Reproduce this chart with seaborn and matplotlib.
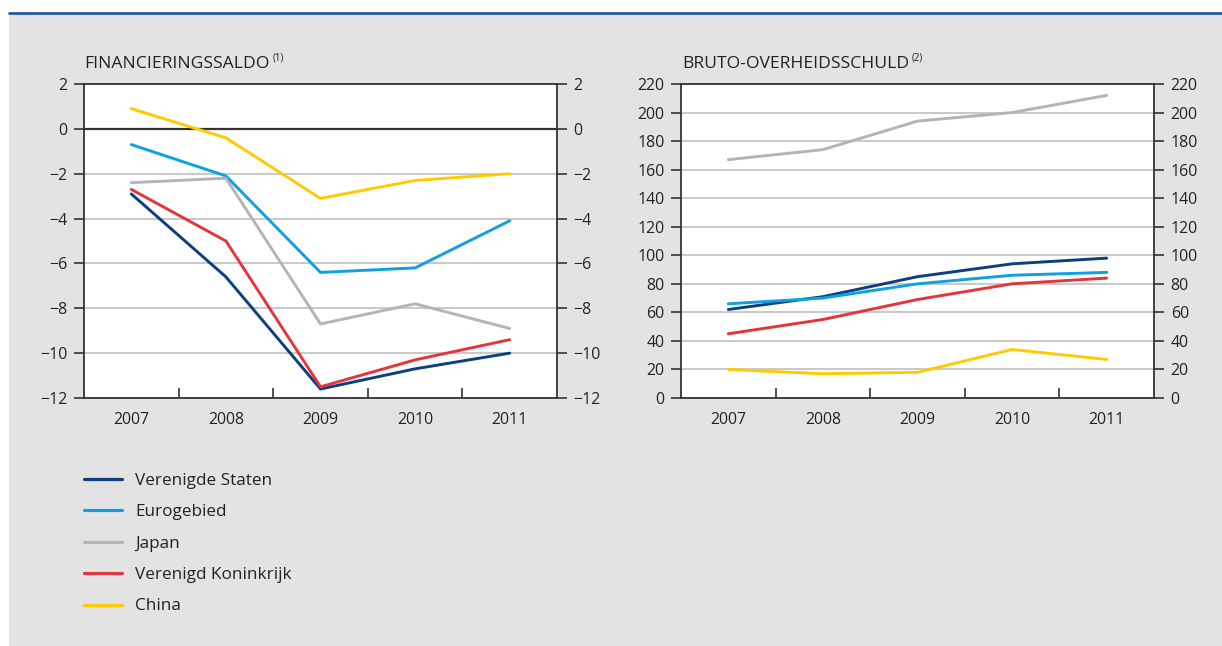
import matplotlib
matplotlib.use("Agg")
import matplotlib.pyplot as plt
import seaborn as sns
import pandas as pd
from matplotlib.patches import Rectangle
from matplotlib.lines import Line2D

# ---------------- data ----------------
years = ["2007", "2008", "2009", "2010", "2011"]
regions = ["Verenigde Staten", "Eurogebied", "Japan", "Verenigd Koninkrijk", "China"]

saldo_vs = [-2.9, -6.6, -11.6, -10.7, -10.0]
saldo_euro = [-0.7, -2.1, -6.4, -6.2, -4.1]
saldo_japan = [-2.4, -2.2, -8.7, -7.8, -8.9]
saldo_vk = [-2.7, -5.0, -11.5, -10.3, -9.4]
saldo_china = [0.9, -0.4, -3.1, -2.3, -2.0]

schuld_vs = [62, 71, 85, 94, 98]
schuld_euro = [66, 70, 80, 86, 88]
schuld_japan = [167, 174, 194, 200, 212]
schuld_vk = [45, 55, 69, 80, 84]
schuld_china = [20, 17, 18, 34, 27]

title_left = "FINANCIERINGSSALDO"
note_left = "(1)"
title_right = "BRUTO-OVERHEIDSSCHULD"
note_right = "(2)"

left_ticks = [-12, -10, -8, -6, -4, -2, 0, 2]
right_ticks = [0, 20, 40, 60, 80, 100, 120, 140, 160, 180, 200, 220]

colors = ["#0b3f7f", "#0ea0e0", "#b4b4b4", "#e4353b", "#ffcb00"]

# ---------------- frames ----------------
def long_frame(series_list):
    rows = []
    for reg, vals in zip(regions, series_list):
        for i, (yr, v) in enumerate(zip(years, vals)):
            rows.append({"pos": i, "jaar": yr, "regio": reg, "waarde": v})
    return pd.DataFrame(rows)

df_left = long_frame([saldo_vs, saldo_euro, saldo_japan, saldo_vk, saldo_china])
df_right = long_frame([schuld_vs, schuld_euro, schuld_japan, schuld_vk, schuld_china])

sns.set_style("white")
plt.rcParams["font.family"] = ["Open Sans", "DejaVu Sans"]
plt.rcParams["axes.unicode_minus"] = True

W, H = 1222, 646
fig = plt.figure(figsize=(W / 100, H / 100), dpi=100, facecolor="white")

# gray panel + blue top rule
fig.patches.append(Rectangle((9 / W, 0), 1 - 9 / W, (H - 13) / H,
                             transform=fig.transFigure, facecolor="#e3e3e3",
                             edgecolor="none", zorder=-10))
fig.add_artist(Line2D([9 / W, 1], [1 - 12.5 / H] * 2, transform=fig.transFigure,
                      color="#1f5c9e", lw=2.0))

TXT = "#222222"
SPINE = "#333333"
GRID = "#bbbbbb"
palette = dict(zip(regions, colors))


def style_axes(ax, ticks, ylim):
    ax.set_facecolor("white")
    ax.set_xlim(-0.5, len(years) - 0.5)
    ax.set_ylim(*ylim)
    ax.set_yticks(ticks)
    ax.set_yticklabels([str(t).replace("-", "\u2212") for t in ticks])
    ax.set_xticks(range(len(years)))
    ax.set_xticklabels(years)
    ax.set_xticks([i + 0.5 for i in range(len(years) - 1)], minor=True)
    ax.tick_params(axis="x", which="major", length=0, pad=10, labelsize=11.4, colors=TXT)
    ax.tick_params(axis="x", which="minor", direction="in", length=7, width=1.2,
                   color=SPINE, bottom=True)
    ax.tick_params(axis="y", which="major", direction="out", length=7, width=1.2,
                   color=SPINE, left=True, right=True, labelleft=True, labelright=True,
                   labelsize=11.4, labelcolor=TXT, pad=5)
    for s in ax.spines.values():
        s.set_visible(True)
        s.set_color(SPINE)
        s.set_linewidth(1.3)
    ax.yaxis.grid(True, color=GRID, lw=1.1)
    ax.xaxis.grid(False)
    ax.set_axisbelow(True)
    ax.set_xlabel("")
    ax.set_ylabel("")


axL = fig.add_axes([84 / W, 1 - 398 / H, 473 / W, 314 / H])
axR = fig.add_axes([681 / W, 1 - 398 / H, 473 / W, 314 / H])

axL.axhline(0, color=SPINE, lw=1.6, zorder=1.5)
sns.lineplot(data=df_left, x="pos", y="waarde", hue="regio", hue_order=regions,
             palette=palette, lw=2.1, legend=False, ax=axL, sort=False, zorder=3)
sns.lineplot(data=df_right, x="pos", y="waarde", hue="regio", hue_order=regions,
             palette=palette, lw=2.1, legend=False, ax=axR, sort=False, zorder=3)

style_axes(axL, left_ticks, (-12, 2))
style_axes(axR, right_ticks, (0, 220))

# titles with superscript notes
t1 = fig.text(84 / W, 1 - 68 / H, title_left, fontsize=12.6, color=TXT, va="baseline")
t2 = fig.text(682 / W, 1 - 68 / H, title_right, fontsize=12.6, color=TXT, va="baseline")
fig.canvas.draw()
r = fig.canvas.get_renderer()
for t, note in [(t1, note_left), (t2, note_right)]:
    bb = t.get_window_extent(renderer=r)
    fig.text((bb.x1 + 3) / W, 1 - 61 / H, note, fontsize=7, color=TXT, va="baseline")

# legend
handles = [Line2D([], [], color=c, lw=2.3) for c in colors]
fig.legend(handles, regions, loc="upper left", bbox_to_anchor=(84 / W, 1 - 473 / H),
           frameon=False, fontsize=12.3, handlelength=2.2, handletextpad=0.8,
           labelspacing=0.9, borderpad=0, borderaxespad=0, labelcolor=TXT)

fig.savefig("out.png", dpi=100, facecolor="white")
